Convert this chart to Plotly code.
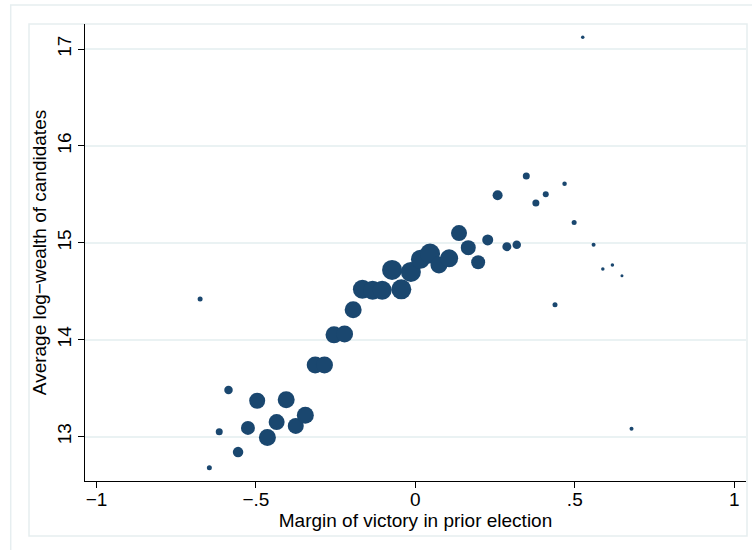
import plotly.graph_objects as go

# Binned scatter: margin of victory vs. average log-wealth (marker size ~ bin count)
margin = [-0.675, -0.646, -0.615, -0.586, -0.556, -0.525, -0.496, -0.464, -0.435, -0.405,
          -0.375, -0.345, -0.314, -0.285, -0.255, -0.222, -0.195, -0.166, -0.134, -0.104,
          -0.073, -0.044, -0.014, 0.016, 0.046, 0.074, 0.106, 0.137, 0.166, 0.197,
          0.227, 0.258, 0.287, 0.318, 0.348, 0.378, 0.409, 0.438, 0.468, 0.498,
          0.525, 0.559, 0.588, 0.618, 0.648, 0.678]
logwealth = [14.42, 12.68, 13.05, 13.48, 12.84, 13.09, 13.37, 12.99, 13.15, 13.38,
             13.11, 13.22, 13.74, 13.74, 14.05, 14.06, 14.31, 14.52, 14.51, 14.51,
             14.72, 14.52, 14.70, 14.83, 14.89, 14.77, 14.84, 15.10, 14.95, 14.80,
             15.03, 15.49, 14.96, 14.98, 15.69, 15.41, 15.50, 14.36, 15.61, 15.21,
             17.12, 14.98, 14.73, 14.77, 14.66, 13.08]
weight = [5, 5, 7, 8.5, 10.5, 14, 16, 17, 16, 17,
          16, 17, 17, 17, 17, 17, 17, 19, 19, 19,
          20, 20, 20, 19, 20, 17, 18, 16, 15, 14,
          11, 10, 9, 8.5, 7, 7, 6, 5, 4.5, 5,
          3.5, 4, 3.5, 3.5, 3, 4]

x_tickvals = [-1, -0.5, 0, 0.5, 1]
x_ticktext = ["\u22121", "\u2212.5", "0", ".5", "1"]
y_tickvals = [13, 14, 15, 16, 17]
y_ticktext = ["13", "14", "15", "16", "17"]

NAVY = "#1a476f"
FONT = "Liberation Sans, Arial, sans-serif"
FRAME = "#e6eef0"
FS = 19

fig = go.Figure(go.Scatter(
    x=margin, y=logwealth, mode="markers",
    marker=dict(size=weight, color=NAVY, line=dict(width=0), opacity=1),
    hoverinfo="x+y",
))

W, H = 752, 550
L, R, T, B = 85, 6, 24, 69
pw, ph = W - L - R, H - T - B


def px(xp):
    return (xp - L) / pw


def py(yp):
    return (H - B - yp) / ph


shapes = [
    dict(type="rect", xref="paper", yref="paper", x0=px(10.7), x1=px(765), y0=py(565), y1=py(5),
         line=dict(color=FRAME, width=1.5), fillcolor="rgba(0,0,0,0)", layer="below"),
    dict(type="rect", xref="paper", yref="paper", x0=px(29), x1=px(747), y0=py(536), y1=py(24),
         line=dict(color=FRAME, width=1.5), fillcolor="rgba(0,0,0,0)", layer="below"),
]

fig.update_layout(
    width=W, height=H,
    margin=dict(l=L, r=R, t=T, b=B),
    paper_bgcolor="white", plot_bgcolor="white",
    font=dict(family=FONT, size=FS, color="black"),
    showlegend=False,
    shapes=shapes,
    xaxis=dict(
        range=[-1.036, 1.037], tickvals=x_tickvals, ticktext=x_ticktext,
        showgrid=False, zeroline=False,
        showline=True, linecolor="black", linewidth=1,
        ticks="outside", ticklen=6, tickcolor="black", tickwidth=1,
        tickfont=dict(size=FS), ticklabelstandoff=-5,
        title=dict(text="Margin of victory in prior election", font=dict(size=FS), standoff=2),
    ),
    yaxis=dict(
        range=[12.542, 17.258], tickvals=y_tickvals, ticktext=y_ticktext,
        showgrid=True, gridcolor="#eaf2f3", gridwidth=1.5, zeroline=False,
        showline=True, linecolor="black", linewidth=1,
        ticks="outside", ticklen=6, tickcolor="black", tickwidth=1,
        tickangle=-90, tickfont=dict(size=FS), ticklabelstandoff=-1,
        title=dict(text="Average log\u2212wealth of candidates", font=dict(size=FS), standoff=2),
    ),
)

fig.write_html("out.html")
